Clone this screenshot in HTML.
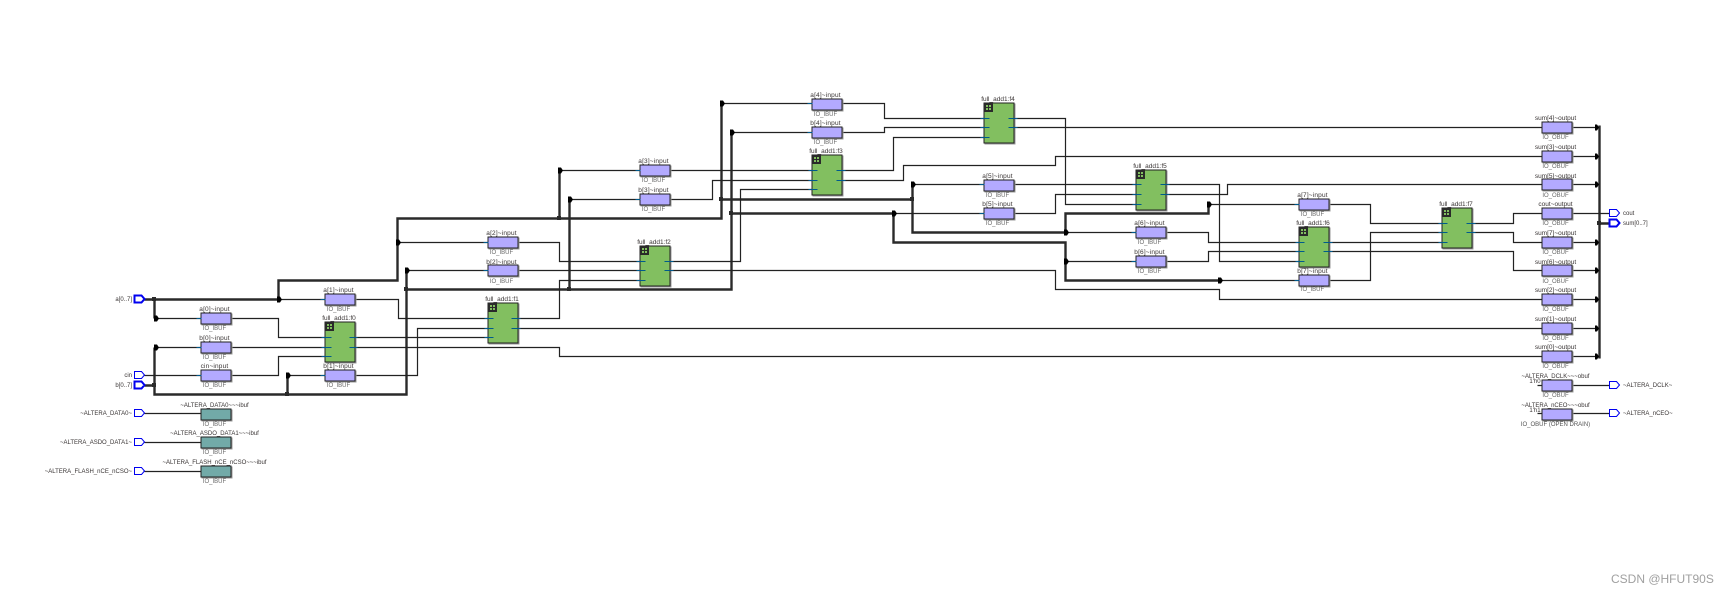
<!DOCTYPE html>
<html><head><meta charset="utf-8"><style>
html,body{margin:0;padding:0;background:#fff}
svg{display:block}
text{font-family:"Liberation Sans",sans-serif;font-size:6.5px;fill:#3a3535;text-anchor:middle}
.i{font-size:6px;fill:#6a6a6a}
.r{text-anchor:end;font-size:6px}
.l{text-anchor:start;font-size:6px}
g.n text:not(.i){letter-spacing:.17px}
g.x text:not(.i){font-size:6px}
.w{fill:none;stroke:#222;stroke-width:1.2;transform:translate(.5px,.5px)}
.t{fill:none;stroke:#2a2a2a;stroke-width:2.4;transform:translate(.5px,.5px)}
.s{fill:none;stroke:#005a8c;stroke-width:1.1;transform:translate(.5px,.5px)}
.b rect{stroke:#222;stroke-width:1;shape-rendering:crispEdges;filter:drop-shadow(1.5px 1.5px 0 #999)}
.p{fill:#b3aaff}.g{fill:#82bf60}.e{fill:#72aaa8}
.ic{fill:#2a2a2a;shape-rendering:crispEdges}
.port{fill:#fff;stroke:#0000f0;stroke-width:1}
.bus{fill:#fff;stroke:#0000f0;stroke-width:2}
</style></head><body>
<svg width="1728" height="592" viewBox="0 0 1728 592" xmlns="http://www.w3.org/2000/svg">
<rect width="1728" height="592" fill="#fff"/>

<path class="t" d="M144 299H278V280H397V218H721V103M397 280V218M559 218V170M721 199H912V184M912 199V232H1065V213H1208V204M154 299V318M144 385H154M154 347V394H406V270M287 394V375M406 289H731V132M569 289V199M731 213H893V242H1065V280H1219M1599 125V358M1599 223H1609"/>

<path class="w" d="M155 318H201M155 347H201M144 375H201M279 299H325M288 375H325
M231 318H278V337H325M231 347H325M231 375H278V356H325M355 299H398V318H488M355 375H417V328H488M355 337H488M355 347H559V356H1542
M398 242H488M407 270H488M518 242H559V261H640M518 270H640M518 318H559V280H640M518 328H1542M560 170H640M570 199H640
M670 170H812M670 199H712V180H812M670 261H740V189H812M670 270H1055V289H1219V299H1542
M722 103H812M732 132H812M842 103H884V118H984M842 132H884V127H984M842 170H893V137H984M842 180H903V165H1055V156H1542
M1014 118H1065V204H1136M1014 127H1542M913 184H984M894 213H984M1014 184H1136M1014 213H1055V194H1136
M1066 232H1136M1066 261H1136M1166 184H1219V261H1299M1166 194H1227V184H1542M1166 232H1208V242H1299M1166 261H1208V251H1299
M1209 204H1299M1220 280H1299M1329 204H1370V223H1442M1329 280H1370V232H1442M1329 242H1442M1329 251H1513V270H1542
M1472 223H1513V213H1542M1472 232H1513V242H1542
M1572 127H1599M1572 156H1599M1572 184H1599M1572 213H1609M1572 242H1599M1572 270H1599M1572 299H1599M1572 328H1599M1572 356H1599
M1572 385H1609M1572 413H1609M1537 385H1542M1537 413H1542
M144 413H201M144 442H201M144 471H201"/>

<!-- junctions -->
<path fill="#2a2a2a" shape-rendering="crispEdges" d="M152 297h4v4h-4zM152 383h4v4h-4zM285 392h4v4h-4zM404 287h4v4h-4zM567 287h4v4h-4zM557 216h4v4h-4zM719 197h4v4h-4zM729 211h4v4h-4zM910 197h4v4h-4zM1597 221h4v4h-4z"/>
<!-- arrows -->
<path fill="#000" d="M154 315.500h3l2 3l-2 3h-3zM154 344.500h3l2 3l-2 3h-3zM277 296.500h3l2 3l-2 3h-3zM286 372.500h3l2 3l-2 3h-3zM396 239.500h3l2 3l-2 3h-3zM405 267.500h3l2 3l-2 3h-3zM558 167.500h3l2 3l-2 3h-3zM568 196.500h3l2 3l-2 3h-3zM720 100.500h3l2 3l-2 3h-3zM730 129.500h3l2 3l-2 3h-3zM911 181.500h3l2 3l-2 3h-3zM892 210.500h3l2 3l-2 3h-3zM1064 229.500h3l2 3l-2 3h-3zM1064 258.500h3l2 3l-2 3h-3zM1207 201.500h3l2 3l-2 3h-3zM1218 277.500h3l2 3l-2 3h-3z
M1595 124.500h2l2 3l-2 3h-2zM1595 153.500h2l2 3l-2 3h-2zM1595 181.500h2l2 3l-2 3h-2zM1595 239.500h2l2 3l-2 3h-2zM1595 267.500h2l2 3l-2 3h-2zM1595 296.500h2l2 3l-2 3h-2zM1595 325.500h2l2 3l-2 3h-2zM1595 353.500h2l2 3l-2 3h-2z"/>

<!-- boxes -->
<g class="b">
<rect class="p" x="201" y="313" width="30" height="11"/><rect class="p" x="201" y="342" width="30" height="11"/><rect class="p" x="201" y="370" width="30" height="11"/>
<rect class="p" x="325" y="294" width="30" height="11"/><rect class="p" x="325" y="370" width="30" height="11"/>
<rect class="p" x="488" y="237" width="30" height="11"/><rect class="p" x="488" y="265" width="30" height="11"/>
<rect class="p" x="640" y="165" width="30" height="11"/><rect class="p" x="640" y="194" width="30" height="11"/>
<rect class="p" x="812" y="99" width="30" height="11"/><rect class="p" x="812" y="127" width="30" height="11"/>
<rect class="p" x="984" y="180" width="30" height="11"/><rect class="p" x="984" y="208" width="30" height="11"/>
<rect class="p" x="1136" y="227" width="30" height="11"/><rect class="p" x="1136" y="256" width="30" height="11"/>
<rect class="p" x="1299" y="199" width="30" height="11"/><rect class="p" x="1299" y="275" width="30" height="11"/>
<rect class="p" x="1542" y="122" width="30" height="11"/><rect class="p" x="1542" y="151" width="30" height="11"/><rect class="p" x="1542" y="179" width="30" height="11"/><rect class="p" x="1542" y="208" width="30" height="11"/><rect class="p" x="1542" y="237" width="30" height="11"/><rect class="p" x="1542" y="265" width="30" height="11"/><rect class="p" x="1542" y="294" width="30" height="11"/><rect class="p" x="1542" y="323" width="30" height="11"/><rect class="p" x="1542" y="351" width="30" height="11"/><rect class="p" x="1542" y="380" width="30" height="11"/><rect class="p" x="1542" y="409" width="30" height="11"/>
<rect class="e" x="201" y="409" width="30" height="11"/><rect class="e" x="201" y="437" width="30" height="11"/><rect class="e" x="201" y="466" width="30" height="11"/>
<rect class="g" x="325" y="322" width="30" height="40"/><rect class="g" x="488" y="303" width="30" height="40"/><rect class="g" x="640" y="246" width="30" height="40"/><rect class="g" x="812" y="155" width="30" height="40"/><rect class="g" x="984" y="103" width="30" height="40"/><rect class="g" x="1136" y="170" width="30" height="40"/><rect class="g" x="1299" y="227" width="30" height="40"/><rect class="g" x="1442" y="208" width="30" height="40"/>
</g>

<!-- block icons -->
<g class="ic">
<path d="M325 322h9v9h-9zM488 303h9v9h-9zM640 246h9v9h-9zM812 155h9v9h-9zM984 103h9v9h-9zM1136 170h9v9h-9zM1299 227h9v9h-9zM1442 208h9v9h-9z"/>
</g>
<path fill="#82bf60" shape-rendering="crispEdges" d="M327 324h2v2h-2zM330 324h2v2h-2zM327 327h2v2h-2zM330 327h2v2h-2zM490 305h2v2h-2zM493 305h2v2h-2zM490 308h2v2h-2zM493 308h2v2h-2zM642 248h2v2h-2zM645 248h2v2h-2zM642 251h2v2h-2zM645 251h2v2h-2zM814 157h2v2h-2zM817 157h2v2h-2zM814 160h2v2h-2zM817 160h2v2h-2zM986 105h2v2h-2zM989 105h2v2h-2zM986 108h2v2h-2zM989 108h2v2h-2zM1138 172h2v2h-2zM1141 172h2v2h-2zM1138 175h2v2h-2zM1141 175h2v2h-2zM1301 229h2v2h-2zM1304 229h2v2h-2zM1301 232h2v2h-2zM1304 232h2v2h-2zM1444 210h2v2h-2zM1447 210h2v2h-2zM1444 213h2v2h-2zM1447 213h2v2h-2z"/>

<!-- pin stubs -->
<path class="s" d="M321 337h10M321 347h10M321 356h10M349 337h8M349 347h8M484 318h9M484 328h9M484 337h9M511 318h9M511 328h9M636 261h9M636 270h9M636 280h9M664 261h9M664 270h9M808 170h9M808 180h9M808 189h9M836 170h9M836 180h9M980 118h9M980 127h9M980 137h9M1008 118h9M1008 127h9M1132 184h9M1132 194h9M1132 204h9M1160 184h9M1160 194h9M1295 242h9M1295 251h9M1295 261h9M1323 242h9M1323 251h9M1438 223h9M1438 232h9M1438 242h9M1466 223h9M1466 232h9
M196 318h5M196 347h5M196 375h5M320 299h5M320 375h5M483 242h5M483 270h5M635 170h5M635 199h5M807 103h5M807 132h5M979 184h5M979 213h5M1131 232h5M1131 261h5M1294 204h5M1294 280h5"/>

<!-- ports -->
<path class="bus" d="M134.500 295.500h7l3 3.500l-3 3.500h-7zM134.500 381.500h7l3 3.500l-3 3.500h-7zM1609.500 219.500h7l3 3.500l-3 3.500h-7z"/>
<path class="port" d="M134.500 371.500h7l3 3.500l-3 3.500h-7zM134.500 409.500h7l3 3.500l-3 3.500h-7zM134.500 438.500h7l3 3.500l-3 3.500h-7zM134.500 467.500h7l3 3.500l-3 3.500h-7zM1609.500 209.500h7l3 3.500l-3 3.500h-7zM1609.500 381.500h7l3 3.500l-3 3.500h-7zM1609.500 409.500h7l3 3.500l-3 3.500h-7z"/>

<!-- port labels -->
<text class="r" x="132" y="301">a[0..7]</text>
<text class="r" x="132" y="377">cin</text>
<text class="r" x="132" y="387">b[0..7]</text>
<text class="r" x="132" y="415">~ALTERA_DATA0~</text>
<text class="r" x="132" y="444">~ALTERA_ASDO_DATA1~</text>
<text class="r" x="132" y="473">~ALTERA_FLASH_nCE_nCSO~</text>
<text class="l" x="1623" y="215">cout</text>
<text class="l" x="1623" y="225">sum[0..7]</text>
<text class="l" x="1623" y="387">~ALTERA_DCLK~</text>
<text class="l" x="1623" y="415">~ALTERA_nCEO~</text>

<!-- box labels -->
<g class="n">
<text x="214.500" y="311">a[0]~input</text><text class="i" x="214.500" y="330">IO_IBUF</text>
<text x="214.500" y="340">b[0]~input</text><text class="i" x="214.500" y="359">IO_IBUF</text>
<text x="214.500" y="368">cin~input</text><text class="i" x="214.500" y="387">IO_IBUF</text>
<text x="338.500" y="292">a[1]~input</text><text class="i" x="338.500" y="311">IO_IBUF</text>
<text x="338.500" y="368">b[1]~input</text><text class="i" x="338.500" y="387">IO_IBUF</text>
<text x="501.500" y="235">a[2]~input</text><text class="i" x="501.500" y="254">IO_IBUF</text>
<text x="501.500" y="264">b[2]~input</text><text class="i" x="501.500" y="283">IO_IBUF</text>
<text x="653.500" y="163">a[3]~input</text><text class="i" x="653.500" y="182">IO_IBUF</text>
<text x="653.500" y="192">b[3]~input</text><text class="i" x="653.500" y="211">IO_IBUF</text>
<text x="825.500" y="97">a[4]~input</text><text class="i" x="825.500" y="116">IO_IBUF</text>
<text x="825.500" y="125">b[4]~input</text><text class="i" x="825.500" y="144">IO_IBUF</text>
<text x="997.500" y="178">a[5]~input</text><text class="i" x="997.500" y="197">IO_IBUF</text>
<text x="997.500" y="206">b[5]~input</text><text class="i" x="997.500" y="225">IO_IBUF</text>
<text x="1149.500" y="225">a[6]~input</text><text class="i" x="1149.500" y="244">IO_IBUF</text>
<text x="1149.500" y="254">b[6]~input</text><text class="i" x="1149.500" y="273">IO_IBUF</text>
<text x="1312.500" y="197">a[7]~input</text><text class="i" x="1312.500" y="216">IO_IBUF</text>
<text x="1312.500" y="273">b[7]~input</text><text class="i" x="1312.500" y="291">IO_IBUF</text>
</g>

<text x="339" y="320">full_add1:f0</text>
<text x="502" y="301">full_add1:f1</text>
<text x="654" y="244">full_add1:f2</text>
<text x="826" y="153">full_add1:f3</text>
<text x="998" y="101">full_add1:f4</text>
<text x="1150" y="168">full_add1:f5</text>
<text x="1313" y="225">full_add1:f6</text>
<text x="1456" y="206">full_add1:f7</text>

<text x="1555.500" y="120">sum[4]~output</text><text class="i" x="1555.500" y="139">IO_OBUF</text>
<text x="1555.500" y="149">sum[3]~output</text><text class="i" x="1555.500" y="168">IO_OBUF</text>
<text x="1555.500" y="178">sum[5]~output</text><text class="i" x="1555.500" y="197">IO_OBUF</text>
<text x="1555.500" y="206">cout~output</text><text class="i" x="1555.500" y="225">IO_OBUF</text>
<text x="1555.500" y="235">sum[7]~output</text><text class="i" x="1555.500" y="254">IO_OBUF</text>
<text x="1555.500" y="264">sum[6]~output</text><text class="i" x="1555.500" y="283">IO_OBUF</text>
<text x="1555.500" y="292">sum[2]~output</text><text class="i" x="1555.500" y="311">IO_OBUF</text>
<text x="1555.500" y="321">sum[1]~output</text><text class="i" x="1555.500" y="340">IO_OBUF</text>
<text x="1555.500" y="349">sum[0]~output</text><text class="i" x="1555.500" y="368">IO_OBUF</text>
<g class="x">
<text x="1555.500" y="378">~ALTERA_DCLK~~~obuf</text><text class="i" x="1555.500" y="397">IO_OBUF</text>
<text x="1555.500" y="407">~ALTERA_nCEO~~~obuf</text><text class="i" x="1555.500" y="426" style="fill:#555">IO_OBUF (OPEN DRAIN)</text>
<text x="1535" y="383">1'h0</text>
<text x="1535" y="412">1'h1</text>
<text x="214.500" y="407">~ALTERA_DATA0~~~ibuf</text><text class="i" x="214.500" y="426">IO_IBUF</text>
<text x="214.500" y="435">~ALTERA_ASDO_DATA1~~~ibuf</text><text class="i" x="214.500" y="454">IO_IBUF</text>
<text x="214.500" y="464">~ALTERA_FLASH_nCE_nCSO~~~ibuf</text><text class="i" x="214.500" y="483">IO_IBUF</text>
</g>

<text x="1611" y="583" style="font-size:12px;fill:#a0a0a0;text-anchor:start">CSDN @HFUT90S</text>
</svg>
</body></html>
